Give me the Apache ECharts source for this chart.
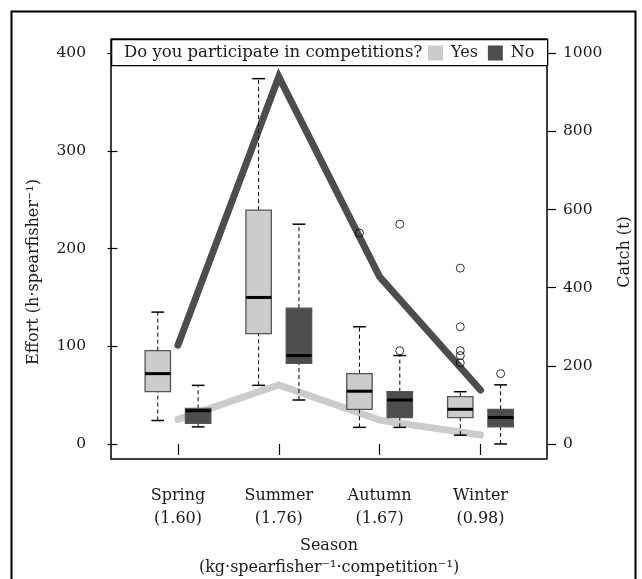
<!DOCTYPE html>
<html>
<head>
<meta charset="utf-8">
<script src="https://cdn.jsdelivr.net/npm/echarts@6/dist/echarts.min.js"></script>
<style>
html,body{margin:0;padding:0;background:#fff;}
#chart{width:642px;height:579px;}
</style>
</head>
<body>
<div id="chart"></div>
<script>
// ---------- data ----------
const seasons = ['Spring', 'Summer', 'Autumn', 'Winter'];
const seasonRates = ['1.60', '1.76', '1.67', '0.98'];
// box stats: [lower whisker, Q1, median, Q3, upper whisker] (Effort, h·spearfisher-1)
const yesBoxes = [
  [24, 53.5, 72, 95.5, 135],
  [60, 113, 150, 239.5, 374],
  [17, 35.5, 54, 72, 120],
  [9, 27, 35.5, 48.5, 53.5]
];
const noBoxes = [
  [17.5, 21, 34, 36.5, 60],
  [45, 82.5, 90.5, 139, 225],
  [17, 27, 45, 53.5, 90.5],
  [0, 17.5, 27, 35.5, 60.5]
];
const yesOutliers = [[], [], [216], [180, 120, 95.5, 90.5, 83]];
const noOutliers = [[], [], [95.5, 225], [72]];
// Catch (t)
const catchNo = [253, 940, 428, 138];
const catchYes = [63, 151, 61, 23];
const effortTicks = [0, 100, 200, 300, 400];
const catchTicks = [0, 200, 400, 600, 800, 1000];

// ---------- layout helpers ----------
const FONT = 'DejaVu Serif';
const TXT = '#1a1a1a';
const seasonStep = 2.5, seasonStart = 1.5, pairOffset = 0.5, boxWidth = 0.63;
const tickPos = seasons.map((s, i) => seasonStart + seasonStep * i);
const yesPos = tickPos.map(p => p - pairOffset);
const noPos = tickPos.map(p => p + pairOffset);

function boxData(pos, boxes) { return boxes.map((b, i) => [pos[i]].concat(b)); }
function outlierData(pos, outs) {
  const r = [];
  outs.forEach((arr, i) => arr.forEach(v => r.push([pos[i], v])));
  return r;
}

function renderBox(fill) {
  return function (params, api) {
    const x = api.value(0);
    const lo = api.value(1), q1 = api.value(2), med = api.value(3), q3 = api.value(4), hi = api.value(5);
    const half = api.size([boxWidth, 0])[0] / 2;
    const pLo = api.coord([x, lo]), pQ1 = api.coord([x, q1]), pMed = api.coord([x, med]);
    const pQ3 = api.coord([x, q3]), pHi = api.coord([x, hi]);
    const cx = pMed[0];
    const dash = { stroke: '#000', lineWidth: 1, lineDash: [4, 3] };
    const solid = { stroke: '#000', lineWidth: 1.5 };
    return {
      type: 'group',
      children: [
        { type: 'line', shape: { x1: cx, y1: pLo[1], x2: cx, y2: pQ1[1] }, style: dash },
        { type: 'line', shape: { x1: cx, y1: pQ3[1], x2: cx, y2: pHi[1] }, style: dash },
        { type: 'line', shape: { x1: cx - half / 2, y1: pLo[1], x2: cx + half / 2, y2: pLo[1] }, style: solid },
        { type: 'line', shape: { x1: cx - half / 2, y1: pHi[1], x2: cx + half / 2, y2: pHi[1] }, style: solid },
        { type: 'rect', shape: { x: cx - half, y: pQ3[1], width: half * 2, height: pQ1[1] - pQ3[1] },
          style: { fill: fill, stroke: '#555', lineWidth: 1.3 } },
        { type: 'line', shape: { x1: cx - half, y1: pMed[1], x2: cx + half, y2: pMed[1] },
          style: { stroke: '#000', lineWidth: 3 } }
      ]
    };
  };
}

const chart = echarts.init(document.getElementById('chart'), null, { renderer: 'canvas' });

const option = {
  animation: false,
  backgroundColor: '#fff',
  textStyle: { fontFamily: FONT },
  grid: { left: 111, top: 39, width: 436, height: 420, show: true, borderColor: '#000', borderWidth: 1.5,
          backgroundColor: 'transparent', containLabel: false, outerBoundsMode: 'none' },
  xAxis: {
    type: 'value', min: -0.16, max: 10.65,
    axisLine: { show: false },
    splitLine: { show: false },
    axisTick: { show: true, inside: false, length: 11, lineStyle: { color: '#000', width: 1.2 }, customValues: tickPos },
    axisLabel: {
      customValues: tickPos, margin: 25, color: TXT, fontFamily: FONT, fontSize: 16, lineHeight: 23,
      formatter: function (v) {
        const i = Math.round((v - seasonStart) / seasonStep);
        return seasons[i] + '\n(' + seasonRates[i] + ')';
      }
    },
    name: 'Season\n(kg·spearfisher⁻¹·competition⁻¹)',
    nameLocation: 'middle', nameGap: 74,
    nameTextStyle: { color: TXT, fontFamily: FONT, fontSize: 16, lineHeight: 22 }
  },
  yAxis: [
    {
      type: 'value', min: -15.4, max: 414.6, position: 'left',
      axisLine: { show: false }, splitLine: { show: false },
      axisTick: { show: true, inside: false, length: 10, lineStyle: { color: '#000', width: 1.2 }, customValues: effortTicks },
      axisLabel: { customValues: effortTicks, margin: 25, color: TXT, fontFamily: FONT, fontSize: 15.5, formatter: v => String(v) }
    },
    {
      type: 'value', min: -38.5, max: 1036.5, position: 'right',
      axisLine: { show: false }, splitLine: { show: false },
      axisTick: { show: true, inside: false, length: 9, lineStyle: { color: '#000', width: 1.2 }, customValues: catchTicks },
      axisLabel: { customValues: catchTicks, margin: 16, color: TXT, fontFamily: FONT, fontSize: 15.5, formatter: v => String(v) }
    }
  ],
  legend: {
    data: ['Yes', 'No'], left: 428, top: 45, z: 20,
    icon: 'rect', itemWidth: 15, itemHeight: 15, itemGap: 10,
    itemStyle: { borderWidth: 0 },
    textStyle: { color: TXT, fontFamily: FONT, fontSize: 16, padding: [0, 0, 0, 3] },
    padding: 0, selectedMode: false
  },
  graphic: [
    { type: 'rect', left: 9, top: 9, shape: { width: 624, height: 620 }, style: { fill: 'none', stroke: '#000', lineWidth: 2 }, z: 1 },
    { type: 'rect', left: 111, top: 39, shape: { width: 436, height: 26 }, style: { fill: '#fff', stroke: '#000', lineWidth: 1.3 }, z: 15 },
    { type: 'text', x: 124, y: 52.5, style: { text: 'Do you participate in competitions?', fill: TXT, font: '16.5px "DejaVu Serif"', align: 'left', verticalAlign: 'middle' }, z: 16 },
    { type: 'text', x: 34, y: 272, rotation: Math.PI / 2,
      style: { text: 'Effort (h·spearfisher⁻¹)', fill: TXT, font: '16px "DejaVu Serif"', align: 'center', verticalAlign: 'middle' }, z: 16 },
    { type: 'text', x: 625, y: 252, rotation: Math.PI / 2,
      style: { text: 'Catch (t)', fill: TXT, font: '16px "DejaVu Serif"', align: 'center', verticalAlign: 'middle' }, z: 16 }
  ],
  series: [
    {
      name: 'Catch (No)', type: 'line', yAxisIndex: 1, z: 1, symbol: 'none', silent: true,
      data: tickPos.map((p, i) => [p, catchNo[i]]),
      lineStyle: { color: '#4d4d4d', width: 7, cap: 'round', join: 'miter' }
    },
    {
      name: 'Catch (Yes)', type: 'line', yAxisIndex: 1, z: 1, symbol: 'none', silent: true,
      data: tickPos.map((p, i) => [p, catchYes[i]]),
      lineStyle: { color: '#cccccc', width: 7, cap: 'round', join: 'miter' }
    },
    {
      name: 'Yes', type: 'custom', yAxisIndex: 0, z: 3,
      itemStyle: { color: '#cccccc' },
      encode: { x: 0, y: [1, 2, 3, 4, 5] },
      renderItem: renderBox('#cccccc'),
      data: boxData(yesPos, yesBoxes)
    },
    {
      name: 'No', type: 'custom', yAxisIndex: 0, z: 3,
      itemStyle: { color: '#4d4d4d' },
      encode: { x: 0, y: [1, 2, 3, 4, 5] },
      renderItem: renderBox('#4d4d4d'),
      data: boxData(noPos, noBoxes)
    },
    {
      name: 'outliers', type: 'scatter', yAxisIndex: 0, z: 4, symbol: 'circle', symbolSize: 8,
      itemStyle: { color: 'rgba(0,0,0,0)', borderColor: '#000', borderWidth: 1 },
      data: outlierData(yesPos, yesOutliers).concat(outlierData(noPos, noOutliers))
    }
  ]
};
chart.setOption(option);
</script>
</body>
</html>
